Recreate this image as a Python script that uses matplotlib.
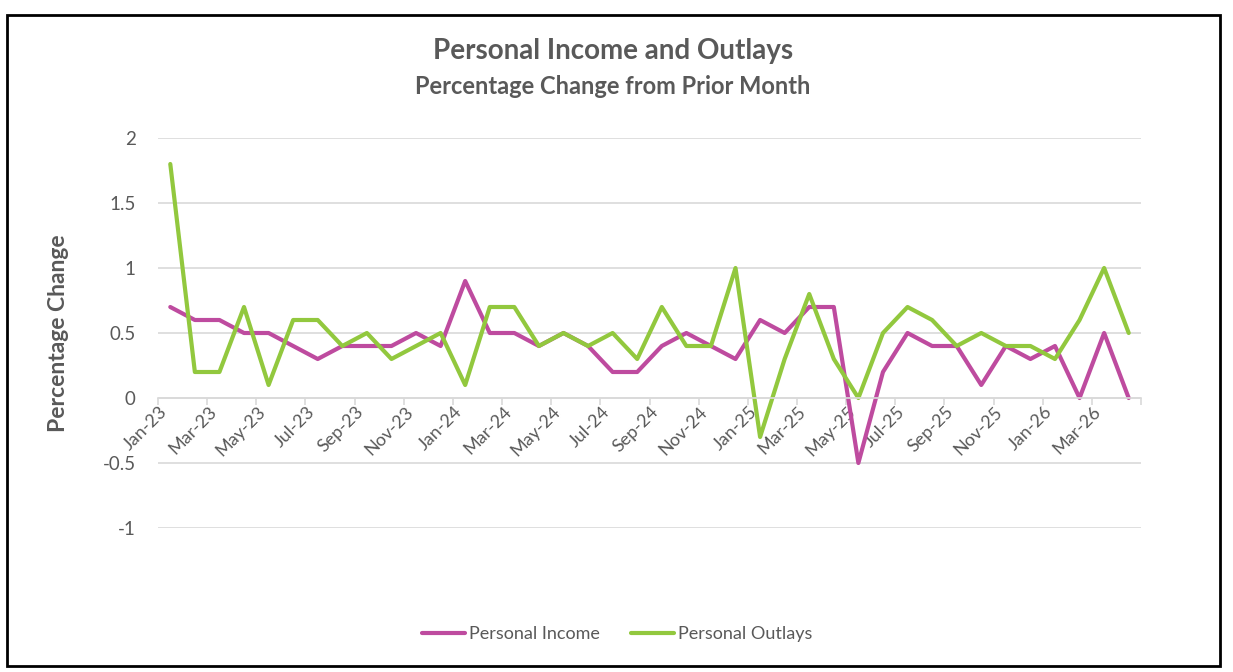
import matplotlib.pyplot as plt
from matplotlib.patches import Rectangle

# monthly labels Jan-23 .. Apr-26
months = ["Jan", "Feb", "Mar", "Apr", "May", "Jun", "Jul", "Aug", "Sep", "Oct", "Nov", "Dec"]
labels = [f"{m}-{y}" for y in ("23", "24", "25", "26") for m in months][:40]

income = [0.7, 0.6, 0.6, 0.5, 0.5, 0.4, 0.3, 0.4, 0.4, 0.4, 0.5, 0.4,
          0.9, 0.5, 0.5, 0.4, 0.5, 0.4, 0.2, 0.2, 0.4, 0.5, 0.4, 0.3,
          0.6, 0.5, 0.7, 0.7, -0.5, 0.2, 0.5, 0.4, 0.4, 0.1, 0.4, 0.3,
          0.4, 0.0, 0.5, 0.0]
outlays = [1.8, 0.2, 0.2, 0.7, 0.1, 0.6, 0.6, 0.4, 0.5, 0.3, 0.4, 0.5,
           0.1, 0.7, 0.7, 0.4, 0.5, 0.4, 0.5, 0.3, 0.7, 0.4, 0.4, 1.0,
           -0.3, 0.3, 0.8, 0.3, 0.0, 0.5, 0.7, 0.6, 0.4, 0.5, 0.4, 0.4,
           0.3, 0.6, 1.0, 0.5]
yticks = [-1, -0.5, 0, 0.5, 1, 1.5, 2]
ytick_labels = ["-1", "-0.5", "0", "0.5", "1", "1.5", "2"]

pink = "#BE4B9F"
green = "#92C83E"
gray = "#595959"
grid = "#D9D9D9"

plt.rcParams["font.family"] = ["Lato", "DejaVu Sans"]

W, H = 1233, 672
fig = plt.figure(figsize=(W / 100, H / 100), dpi=100)
ax = fig.add_axes([158 / W, 1 - 528 / H, (1141 - 158) / W, (528 - 138) / H])

x = list(range(len(labels)))
ax.plot(x, income, color=pink, lw=3.0, label="Personal Income", solid_capstyle="round")
ax.plot(x, outlays, color=green, lw=3.0, label="Personal Outlays", solid_capstyle="round")

ax.set_xlim(-0.5, len(labels) - 0.5)
ax.set_ylim(-1, 2)
ax.set_yticks(yticks)
ax.set_yticklabels(ytick_labels)
ax.grid(axis="y", color=grid, lw=1.2)
ax.set_axisbelow(True)

for s in ("top", "right", "left"):
    ax.spines[s].set_visible(False)
ax.spines["bottom"].set_position(("data", 0))
ax.spines["bottom"].set_color(grid)
ax.spines["bottom"].set_linewidth(1.2)

ax.set_xticks(x[::2])
ax.set_xticklabels(labels[::2], rotation=45, ha="right", rotation_mode="default")
ax.set_xticks([i - 0.5 for i in x[::2]] + [len(labels) - 0.5], minor=True)
ax.tick_params(axis="x", which="major", length=0, pad=4, labelsize=13, labelcolor=gray)
ax.tick_params(axis="x", which="minor", length=5, color=grid, width=1.2)
ax.tick_params(axis="y", length=0, pad=16, labelsize=13.5, labelcolor=gray)

ax.set_ylabel("Percentage Change", fontsize=16.5, fontweight="bold", color=gray, labelpad=24)

fig.text(613 / W, 1 - 51 / H, "Personal Income and Outlays", ha="center", va="center",
         fontsize=20, fontweight="bold", color=gray)
fig.text(613 / W, 1 - 86 / H, "Percentage Change from Prior Month", ha="center", va="center",
         fontsize=17, fontweight="bold", color=gray)

fig.legend(loc="center", bbox_to_anchor=(617 / W, 1 - 634 / H), ncol=2, frameon=False,
           fontsize=13, labelcolor=gray, handlelength=2.4, handletextpad=0.22, columnspacing=1.7)

fig.patches.append(Rectangle((7 / W, 1 - 666 / H), (1220 - 7) / W, (666 - 15) / H,
                             transform=fig.transFigure, fill=False, edgecolor="black", lw=2))

fig.savefig("out.png", dpi=100, facecolor="white")
